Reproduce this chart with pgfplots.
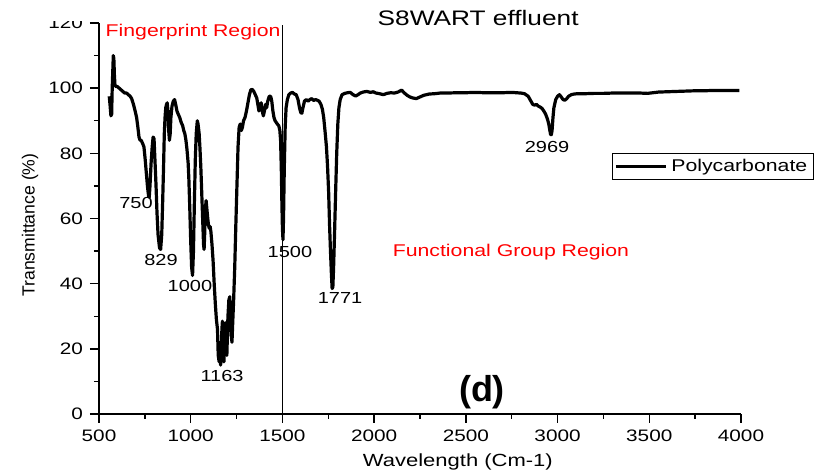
\documentclass[border=0pt]{standalone}
\usepackage{fontspec}
\setmainfont{Liberation Sans}[FakeStretch=1.25]
\newfontfamily\dfont{Liberation Sans}
\usepackage{pgfplots}
\pgfplotsset{compat=1.18}
\definecolor{regred}{RGB}{255,0,0}
\begin{document}
\begin{tikzpicture}
\useasboundingbox (-49.5pt,-31pt) rectangle (358pt,207pt);
\clip (-49.5pt,-31pt) rectangle (358pt,207pt);
\begin{axis}[
  at={(0pt,0pt)}, anchor=south west,
  scale only axis, width=321pt, height=195.5pt,
  xmin=500, xmax=4000, ymin=0, ymax=120,
  axis x line*=bottom, axis y line*=left,
  axis line style={line width=0.8pt},
  every tick/.style={black, line width=0.7pt},
  tick align=outside,
  major tick length=4.5pt, minor tick length=2.5pt,
  xtick={500,1000,...,4000}, ytick={0,20,...,120},
  minor x tick num=1, minor y tick num=1,
  /pgf/number format/assume math mode=true,
  /pgf/number format/1000 sep={},
  tick label style={font=\fontsize{8.3}{9}\selectfont},
  xlabel={Wavelength (Cm-1)},
  ylabel={Transmittance (\%)},
  xlabel style={at={(axis description cs:0.559,-0.1228)}, anchor=center, font=\fontsize{8.8}{10}\selectfont},
  ylabel style={at={(axis description cs:-0.1075,0.483)}, anchor=center, font=\dfont\fontsize{8.8}{10}\selectfont},
  clip=false,
  legend style={at={(axis description cs:0.7986,0.6668)}, anchor=north west,
    draw=black, line width=0.5pt, inner xsep=1pt, inner ysep=0.5pt,
    font=\fontsize{8.5}{9.5}\selectfont, cells={anchor=west}},
  legend image code/.code={\draw[line width=1.6pt] (0pt,0pt) -- (25pt,0pt);},
]
\addplot[black, line width=1.6pt, line join=round] coordinates {
(556,97.5) (560,95) (565,91.5) (569,92) (572,100) (575,105) (578,110) (581,109)
(584,104) (587,101) (592,100.5) (600,100.5) (610,100) (620,99.5) (630,99)
(640,98.5) (650,98.5) (660,98) (670,97.5) (678,96.8) (688,95) (697,93)
(705,91) (712,88) (718,85) (724,84) (730,84) (738,83) (745,82) (752,78)
(758,74) (764,70) (770,67) (774,66.5) (778,70) (784,77) (790,82) (795,85)
(800,84.5) (805,78) (811,70) (816,62) (822,55) (830,51) (836,50.5) (842,55)
(847,65) (852,76) (856,86) (860,91) (864,94) (868,95) (872,95.5) (876,93)
(880,87) (884,84) (888,86) (892,91) (898,94.5) (905,96) (912,96.5) (918,95)
(925,93) (932,92) (940,91) (948,89.5) (956,88.5) (962,87) (968,86) (974,84)
(980,81) (986,77) (990,72) (995,63) (1000,53) (1005,45) (1010,42.5) (1015,50)
(1020,65) (1025,78) (1030,86) (1036,90) (1040,89) (1046,86) (1050,82) (1055,76)
(1060,68) (1065,60) (1070,52) (1073,50.5) (1076,55) (1080,63) (1084,65.5)
(1088,63) (1093,60) (1097,58) (1101,57) (1106,57.5) (1110,56) (1116,52)
(1122,47) (1128,40) (1134,34) (1140,29) (1146,26) (1150,18) (1155,16) (1160,22)
(1163,15) (1167,19) (1170,26) (1173,28.5) (1177,20) (1181,16) (1185,22)
(1189,28) (1193,23) (1197,18) (1203,30) (1208,35) (1213,36) (1217,30)
(1221,24) (1225,22) (1229,28) (1234,35) (1240,45) (1246,58) (1252,70)
(1258,82) (1264,88) (1270,89) (1276,87) (1282,88) (1288,90) (1296,91)
(1304,93) (1312,95.5) (1320,98) (1328,99.5) (1336,99.6) (1344,99) (1352,98)
(1360,97) (1366,95) (1372,93) (1378,94.5) (1384,95.5) (1390,93) (1396,91.5)
(1402,93) (1408,95) (1414,94) (1420,96) (1428,97.5) (1436,97.5) (1442,96)
(1448,93) (1454,91) (1460,90) (1466,89.5) (1472,89) (1480,88.5) (1486,87)
(1490,84) (1494,75) (1497,65) (1500,57) (1503,53.5) (1506,60) (1510,75)
(1515,88) (1520,94) (1527,96.5) (1535,98) (1545,98.5) (1555,98.7) (1565,98.2)
(1575,98) (1585,96.5) (1593,94) (1600,92.5) (1606,92.3) (1612,94) (1620,96)
(1630,96.5) (1640,96) (1650,96.5) (1660,96.8) (1670,96.2) (1680,96.5)
(1690,96.3) (1700,96) (1710,95) (1718,93.5) (1725,91) (1732,87) (1740,82)
(1746,76) (1752,68) (1757,58) (1762,50) (1767,43) (1771,38.5) (1775,39)
(1779,45) (1784,55) (1790,68) (1796,80) (1802,89) (1808,94) (1815,96.5)
(1825,98) (1840,98.4) (1855,98.6) (1870,98.7) (1885,98) (1900,97.6) (1912,98)
(1925,98.5) (1940,98.8) (1960,99) (1980,98.7) (1995,98.9) (2010,98.5)
(2030,98.3) (2050,98) (2070,98.4) (2090,98.6) (2110,98.5) (2130,98.8)
(2150,99.4) (2165,98.5) (2180,97.8) (2195,97.3) (2210,97) (2230,96.8)
(2250,97.3) (2270,97.8) (2300,98.2) (2330,98.3) (2360,98.5) (2400,98.5)
(2450,98.6) (2500,98.6) (2550,98.7) (2600,98.6) (2650,98.6) (2700,98.6)
(2750,98.7) (2800,98.5) (2820,98.3) (2840,97.5) (2855,96) (2865,95) (2875,94.8)
(2885,95) (2895,94.5) (2905,94.2) (2915,93.8) (2925,93) (2935,92) (2945,90.5)
(2952,89) (2958,87) (2962,85.8) (2966,85.7) (2970,87) (2975,91) (2980,94)
(2990,96.5) (3000,97.5) (3010,98) (3020,97.3) (3030,96.5) (3040,96.3)
(3050,96.8) (3060,97.5) (3075,98) (3090,98.2) (3110,98.3) (3150,98.3)
(3200,98.4) (3250,98.4) (3300,98.5) (3350,98.5) (3400,98.5) (3450,98.5)
(3490,98.4) (3520,98.6) (3550,98.8) (3600,98.9) (3650,99) (3700,99.1)
(3750,99.2) (3800,99.2) (3850,99.3) (3900,99.3) (3950,99.3) (3991,99.3)
};
\addlegendentry{Polycarbonate}
\draw[black, line width=0.6pt] (axis cs:1500,0) -- (axis cs:1500,119.3);
\node[font=\fontsize{10.5}{12}\selectfont] at (axis cs:2567,121.5) {S8WART effluent};
\node[regred, font=\fontsize{8.5}{10}\selectfont] at (axis cs:1013,117.2) {Fingerprint Region};
\node[regred, font=\fontsize{8.5}{10}\selectfont] at (axis cs:2746,49.7) {Functional Group Region};
\node[font=\dfont\bfseries\fontsize{18}{20}\selectfont] at (axis cs:2588,6.6) {(d)};
\begin{scope}[every node/.style={font=\fontsize{8}{9}\selectfont}]
\node at (axis cs:702,64.7) {750};
\node at (axis cs:838,47.2) {829};
\node at (axis cs:996,39.3) {1000};
\node at (axis cs:1171,11.7) {1163};
\node at (axis cs:1541,49.7) {1500};
\node at (axis cs:1814,35.6) {1771};
\node at (axis cs:2943,81.9) {2969};
\end{scope}
\end{axis}
\fill[white] (-40pt,196.5pt) rectangle (-3pt,207pt);
\end{tikzpicture}
\end{document}
